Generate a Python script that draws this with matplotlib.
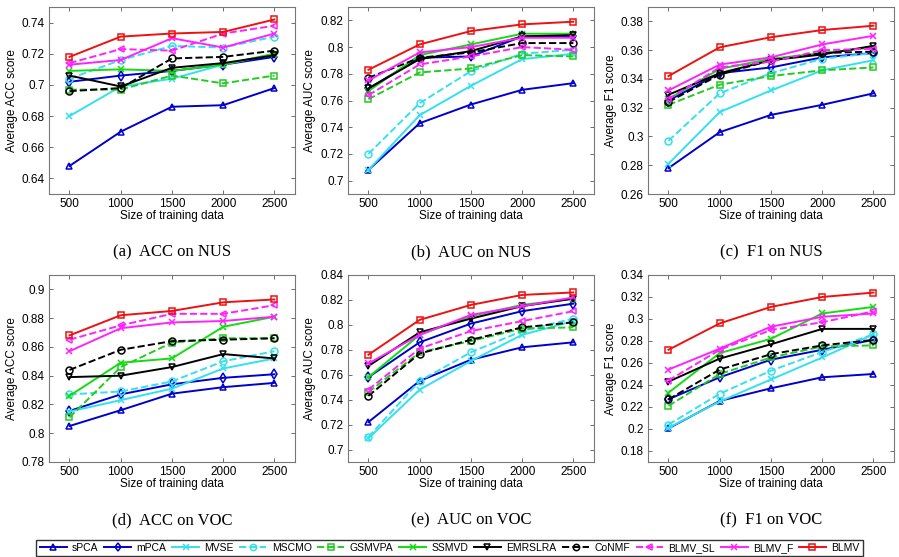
import matplotlib
matplotlib.use("Agg")
import matplotlib.pyplot as plt

sizes = [500, 1000, 1500, 2000, 2500]
methods = ["sPCA", "mPCA", "MVSE", "MSCMO", "GSMVPA", "SSMVD",
           "EMRSLRA", "CoNMF", "BLMV_SL", "BLMV_F", "BLMV"]

# values, one row per method (same order as methods)
acc_nus = [
    [0.648, 0.670, 0.686, 0.687, 0.698],
    [0.702, 0.706, 0.709, 0.713, 0.718],
    [0.680, 0.699, 0.704, 0.713, 0.720],
    [0.704, 0.716, 0.725, 0.724, 0.731],
    [0.697, 0.697, 0.706, 0.701, 0.706],
    [0.709, 0.710, 0.709, 0.713, 0.720],
    [0.706, 0.699, 0.711, 0.714, 0.719],
    [0.696, 0.698, 0.717, 0.718, 0.722],
    [0.714, 0.723, 0.722, 0.733, 0.738],
    [0.713, 0.716, 0.730, 0.724, 0.733],
    [0.718, 0.731, 0.733, 0.734, 0.742],
]
auc_nus = [
    [0.708, 0.743, 0.757, 0.768, 0.773],
    [0.769, 0.792, 0.793, 0.808, 0.808],
    [0.708, 0.749, 0.771, 0.791, 0.795],
    [0.720, 0.758, 0.782, 0.795, 0.798],
    [0.761, 0.781, 0.784, 0.794, 0.793],
    [0.767, 0.794, 0.802, 0.810, 0.810],
    [0.769, 0.791, 0.797, 0.808, 0.809],
    [0.777, 0.792, 0.796, 0.803, 0.803],
    [0.764, 0.787, 0.793, 0.800, 0.798],
    [0.775, 0.796, 0.800, 0.807, 0.807],
    [0.783, 0.802, 0.812, 0.817, 0.819],
]
f1_nus = [
    [0.278, 0.303, 0.315, 0.322, 0.330],
    [0.325, 0.344, 0.348, 0.355, 0.358],
    [0.281, 0.317, 0.332, 0.346, 0.353],
    [0.297, 0.330, 0.344, 0.354, 0.358],
    [0.322, 0.336, 0.342, 0.346, 0.348],
    [0.326, 0.347, 0.354, 0.358, 0.362],
    [0.329, 0.344, 0.353, 0.357, 0.363],
    [0.324, 0.343, 0.353, 0.358, 0.359],
    [0.326, 0.348, 0.352, 0.360, 0.361],
    [0.332, 0.350, 0.355, 0.364, 0.370],
    [0.342, 0.362, 0.369, 0.374, 0.377],
]
acc_voc = [
    [0.805, 0.816, 0.8275, 0.832, 0.835],
    [0.8155, 0.827, 0.834, 0.8385, 0.841],
    [0.815, 0.823, 0.831, 0.845, 0.852],
    [0.827, 0.829, 0.836, 0.850, 0.857],
    [0.811, 0.846, 0.863, 0.866, 0.866],
    [0.826, 0.849, 0.852, 0.874, 0.881],
    [0.839, 0.840, 0.846, 0.855, 0.852],
    [0.844, 0.858, 0.864, 0.865, 0.866],
    [0.865, 0.875, 0.883, 0.883, 0.889],
    [0.857, 0.873, 0.877, 0.878, 0.881],
    [0.868, 0.882, 0.885, 0.891, 0.893],
]
auc_voc = [
    [0.722, 0.755, 0.772, 0.782, 0.786],
    [0.758, 0.786, 0.801, 0.811, 0.817],
    [0.709, 0.748, 0.771, 0.792, 0.803],
    [0.710, 0.755, 0.778, 0.795, 0.805],
    [0.746, 0.778, 0.787, 0.797, 0.798],
    [0.758, 0.792, 0.807, 0.816, 0.821],
    [0.767, 0.794, 0.805, 0.815, 0.821],
    [0.743, 0.777, 0.788, 0.798, 0.802],
    [0.748, 0.781, 0.795, 0.803, 0.811],
    [0.769, 0.792, 0.808, 0.815, 0.822],
    [0.776, 0.804, 0.816, 0.824, 0.826],
]
f1_voc = [
    [0.2005, 0.2255, 0.237, 0.247, 0.250],
    [0.227, 0.247, 0.263, 0.272, 0.281],
    [0.201, 0.225, 0.245, 0.265, 0.286],
    [0.204, 0.232, 0.253, 0.270, 0.286],
    [0.221, 0.250, 0.265, 0.275, 0.276],
    [0.233, 0.269, 0.282, 0.305, 0.311],
    [0.243, 0.264, 0.277, 0.291, 0.291],
    [0.227, 0.254, 0.268, 0.276, 0.281],
    [0.244, 0.272, 0.290, 0.297, 0.307],
    [0.254, 0.273, 0.293, 0.302, 0.305],
    [0.272, 0.296, 0.311, 0.320, 0.324],
]

colors = ["#0000cc", "#0000cc", "#33e0ee", "#33e0ee", "#22cc22", "#11dd11",
          "#000000", "#000000", "#ff22ff", "#ff22ff", "#ee1111"]
styles = ["-", "-", "-", "--", "--", "-", "-", "--", "--", "-", "-"]
markers = ["^", "d", "x", "o", "s", "x", "v", "o", "<", "x", "s"]

panels = [
    (acc_nus, "Average ACC score", (0.63, 0.75), [0.64, 0.66, 0.68, 0.70, 0.72, 0.74], "(a)  ACC on NUS"),
    (auc_nus, "Average AUC score", (0.69, 0.83), [0.70, 0.72, 0.74, 0.76, 0.78, 0.80, 0.82], "(b)  AUC on NUS"),
    (f1_nus, "Average F1 score", (0.26, 0.39), [0.26, 0.28, 0.30, 0.32, 0.34, 0.36, 0.38], "(c)  F1 on NUS"),
    (acc_voc, "Average ACC score", (0.78, 0.91), [0.78, 0.80, 0.82, 0.84, 0.86, 0.88, 0.90], "(d)  ACC on VOC"),
    (auc_voc, "Average AUC score", (0.69, 0.84), [0.70, 0.72, 0.74, 0.76, 0.78, 0.80, 0.82, 0.84], "(e)  AUC on VOC"),
    (f1_voc, "Average F1 score", (0.17, 0.34), [0.18, 0.20, 0.22, 0.24, 0.26, 0.28, 0.30, 0.32, 0.34], "(f)  F1 on VOC"),
]

plt.rcParams["font.family"] = ["Liberation Sans", "DejaVu Sans"]
fig = plt.figure(figsize=(8.99, 5.57), dpi=100)

lefts = [0.0545, 0.387, 0.7208]
bottoms = [0.6517, 0.1706]
w, h = 0.2736, 0.3357

def fmt(v):
    s = "%.2f" % v
    s = s.rstrip("0").rstrip(".") if s.endswith("0") else s
    return s

handles = []
for k, (data, ylab, ylim, yt, cap) in enumerate(panels):
    ax = fig.add_axes([lefts[k % 3], bottoms[k // 3], w, h])
    for i, name in enumerate(methods):
        ln, = ax.plot(sizes, data[i], color=colors[i], linestyle=styles[i],
                      marker=markers[i], markersize=5, fillstyle="none",
                      markeredgewidth=1.1, linewidth=1.4, label=name)
        if k == 0:
            handles.append(ln)
    ax.set_xlim(300, 2700)
    ax.set_ylim(*ylim)
    ax.set_xticks(sizes)
    ax.set_yticks(yt)
    ax.set_yticklabels([fmt(v) for v in yt])
    ax.tick_params(direction="in", top=True, right=True, labelsize=8.5,
                   length=3, width=0.6, color="#555555", pad=3)
    for sp in ax.spines.values():
        sp.set_color("#777777")
        sp.set_linewidth(0.8)
    ax.set_ylabel(ylab, fontsize=8.5, labelpad=3)
    ax.set_xlabel("Size of training data", fontsize=8.5, labelpad=0)
    ax.text(0.5, -0.31, cap, transform=ax.transAxes, ha="center", va="center",
            fontsize=12, family="Liberation Serif")

fig.legend(handles, methods, loc="lower center", bbox_to_anchor=(0.5, -0.008),
           ncol=11, fontsize=7.5, frameon=True, fancybox=False, edgecolor="black",
           handlelength=2.6, columnspacing=0.55, handletextpad=0.5,
           borderpad=0.3, markerscale=0.9)

fig.savefig("out.png", dpi=100)
